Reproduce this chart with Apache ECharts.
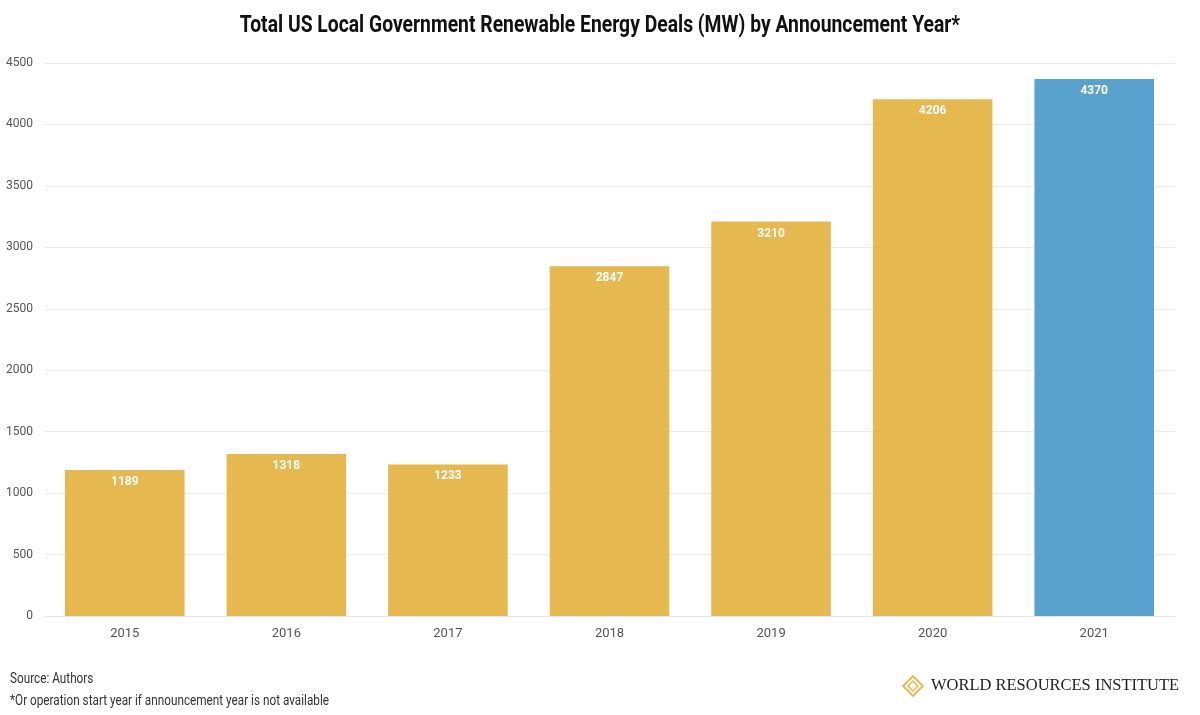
<!DOCTYPE html>
<html lang="en">
<head>
    <meta charset="UTF-8">
    <title>US Local Government Renewable Energy Deals</title>
    <script src="https://cdn.jsdelivr.net/npm/echarts@6/dist/echarts.min.js"></script>
    <style>
        html, body { margin: 0; padding: 0; background: #fff; }
        #main { width: 1200px; height: 715px; }
    </style>
</head>
<body>
<div id="main"></div>
<script>
    // data
    var years = ['2015', '2016', '2017', '2018', '2019', '2020', '2021'];
    var dealsMW = [1189, 1318, 1233, 2847, 3210, 4206, 4370];
    var barColors = ['#E6B850', '#E6B850', '#E6B850', '#E6B850', '#E6B850', '#E6B850', '#58A2CD'];

    var font = 'Roboto, sans-serif';

    var myChart = echarts.init(document.getElementById('main'));
    var option = {
        backgroundColor: '#fff',
        grid: {
            left: 44,
            right: 25,
            top: 63,
            bottom: 99
        },
        xAxis: {
            type: 'category',
            data: years,
            axisLine: { lineStyle: { color: '#e6e6e6' } },
            axisTick: { show: false },
            axisLabel: {
                color: '#555',
                fontFamily: font,
                fontSize: 13,
                margin: 11
            }
        },
        yAxis: {
            type: 'value',
            min: 0,
            max: 4500,
            interval: 500,
            axisLine: { show: false },
            axisTick: { show: false },
            splitLine: { lineStyle: { color: '#ebebeb' } },
            axisLabel: {
                color: '#555',
                fontFamily: font,
                fontSize: 12,
                margin: 11,
                formatter: function (v) { return String(v); }
            }
        },
        series: [{
            type: 'bar',
            barWidth: '74%',
            data: dealsMW.map(function (v, i) {
                return { value: v, itemStyle: { color: barColors[i] } };
            }),
            label: {
                show: true,
                position: 'insideTop',
                distance: 6,
                color: '#fff',
                fontFamily: font,
                fontWeight: 'bold',
                fontSize: 12
            }
        }],
        graphic: [
            // title, squeezed to look like the condensed face of the original
            {
                type: 'text',
                x: 600,
                y: 26,
                scaleX: 0.84,
                style: {
                    text: 'Total US Local Government Renewable Energy Deals (MW) by Announcement Year*',
                    fill: '#111',
                    font: 'bold 23px ' + font,
                    align: 'center',
                    verticalAlign: 'middle'
                }
            },
            {
                type: 'text',
                x: 10,
                y: 679,
                scaleX: 0.84,
                style: {
                    text: 'Source: Authors',
                    fill: '#333',
                    font: '14px ' + font,
                    verticalAlign: 'middle'
                }
            },
            {
                type: 'text',
                x: 10,
                y: 701,
                scaleX: 0.84,
                style: {
                    text: '*Or operation start year if announcement year is not available',
                    fill: '#333',
                    font: '14px ' + font,
                    verticalAlign: 'middle'
                }
            },
            // logo mark
            {
                type: 'group',
                x: 903,
                y: 676,
                children: [
                    { type: 'rect', shape: { x: 3, y: 3, width: 14, height: 14 }, rotation: Math.PI / 4, originX: 10, originY: 10,
                      style: { fill: 'none', stroke: '#E6B850', lineWidth: 2 } },
                    { type: 'rect', shape: { x: 6.5, y: 6.5, width: 7, height: 7 }, rotation: Math.PI / 4, originX: 10, originY: 10,
                      style: { fill: 'none', stroke: '#E6B850', lineWidth: 1.5 } }
                ]
            },
            {
                type: 'text',
                x: 931,
                y: 686,
                scaleX: 1.03,
                style: {
                    text: 'WORLD RESOURCES INSTITUTE',
                    fill: '#222',
                    font: '16px "Liberation Serif", "DejaVu Serif", serif',
                    verticalAlign: 'middle'
                }
            }
        ]
    };
    myChart.setOption(option);
</script>
</body>
</html>
